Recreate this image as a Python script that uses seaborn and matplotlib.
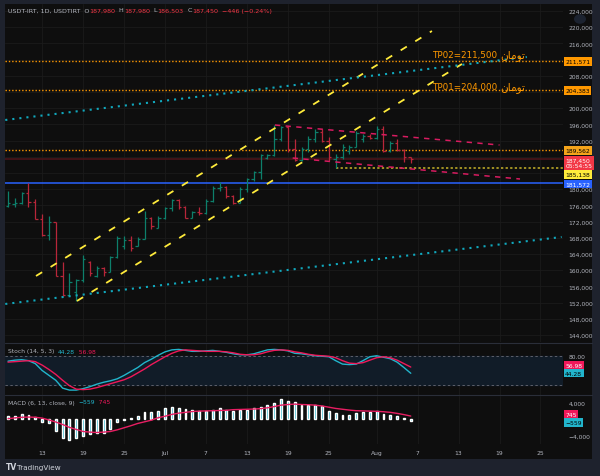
import numpy as np
import matplotlib
matplotlib.use("Agg")
import matplotlib.pyplot as plt
import matplotlib.transforms as mtransforms
from matplotlib.patches import Rectangle, Circle
from matplotlib.lines import Line2D
import pandas as pd
import seaborn as sns

# ---- data (daily bars, 2025-06-08 .. 2025-08-06) ----
START = pd.Timestamp("2025-06-08")
OPEN = [175900, 176300, 176600, 179100, 176800, 172700, 168700, 171900, 158600, 153900,
        154500, 157600, 162000, 158600, 160500, 159600, 163300, 166000, 167500, 166000,
        167800, 173000, 170500, 172800, 175300, 177300, 175600, 173000, 174400, 174000,
        177200, 180300, 180600, 178400, 176700, 180000, 182400, 184200, 187700, 188500,
        192400, 195400, 190000, 187200, 190000, 192500, 194200, 192000, 187500, 188000,
        189500, 190500, 192500, 193200, 192600, 194800, 189500, 191500, 189600, 187980]
HIGH = [179600, 177800, 179300, 181600, 177600, 173900, 173400, 172000, 162000, 159300,
        157800, 163700, 162300, 161000, 160800, 163500, 168500, 168500, 168500, 168300,
        174600, 173100, 173400, 175600, 177600, 177600, 175900, 174600, 175600, 177600,
        180800, 181800, 180800, 178600, 180500, 182800, 184500, 188700, 188700, 195900,
        195600, 195600, 192400, 190400, 193100, 194900, 194900, 192900, 188700, 191200,
        191000, 194400, 193600, 193600, 195600, 195600, 191900, 192400, 189900, 187980]
LOW = [175600, 175600, 176300, 175600, 172600, 168500, 167500, 158500, 153600, 153600,
       152400, 157100, 158600, 158300, 158600, 159600, 163000, 165200, 164700, 166000,
       167700, 170200, 170400, 172600, 174600, 175100, 172900, 172900, 173600, 173900,
       176800, 179600, 177800, 176400, 176600, 179300, 182000, 182500, 187500, 188200,
       191900, 189200, 187000, 187000, 189200, 191700, 191700, 187000, 185138, 187500,
       188700, 190400, 191700, 192400, 192500, 189200, 189200, 189400, 186700, 186503]
CLOSE = [176600, 176600, 179100, 176800, 172700, 168700, 171900, 158600, 153900, 157000,
         157600, 162800, 159300, 160500, 159600, 163300, 168000, 167500, 165500, 167800,
         173000, 170800, 172800, 175300, 177300, 175600, 173000, 174400, 174000, 177200,
         180300, 180600, 178400, 176700, 180000, 182400, 184200, 188400, 188500, 192400,
         195400, 190000, 187200, 190000, 192500, 194200, 192000, 188000, 188000, 190500,
         190500, 193800, 193200, 192600, 194800, 189500, 191500, 189600, 187896, 187450]

STOCH_K = [69, 71, 72, 70, 64, 50, 40, 30, 14, 10, 10, 13, 17, 22, 26, 29, 33, 40, 48, 56,
           66, 73, 81, 88, 92, 93, 91, 89, 89, 90, 91, 89, 87, 84, 82, 82, 84, 88, 92, 93,
           92, 90, 85, 84, 82, 80, 79, 78, 70, 63, 62, 63, 70, 78, 80, 77, 74, 67, 56, 44.28]
STOCH_D = [67, 68, 69, 70, 68, 61, 52, 42, 30, 19, 12, 11, 12, 15, 19, 23, 27, 31, 37, 45,
           53, 62, 70, 78, 85, 90, 92, 91, 90, 89, 89, 89, 88, 86, 83, 82, 82, 84, 88, 91,
           92, 91, 88, 86, 83, 81, 80, 79, 76, 70, 65, 64, 66, 71, 76, 78, 76, 71, 64, 56.98]

MACD_HIST = [800, 650, 1150, 1000, 400, -650, -1000, -2850, -4500, -5100,
             -4700, -4100, -3650, -3400, -3250, -2450, -800, -150, 300, 650,
             1650, 1800, 2050, 2600, 2850, 2700, 2450, 2300, 2050, 2050,
             2300, 2600, 2300, 2050, 2300, 2300, 2600, 2850, 3400, 3900,
             4900, 4500, 4100, 3500, 3500, 3500, 3100, 2050, 1450, 900,
             1050, 1450, 1650, 1650, 1900, 1200, 1050, 650, 250, -559]
MACD_SIGNAL = [100, 300, 450, 500, 450, 250, -200, -700, -1300, -2000,
               -2500, -3000, -3150, -3250, -3150, -3000, -2600, -2100, -1600, -1050,
               -650, -250, 350, 700, 1150, 1450, 1650, 1850, 1950, 2000,
               2050, 2100, 2150, 2300, 2350, 2400, 2450, 2550, 2750, 3050,
               3400, 3550, 3650, 3550, 3500, 3400, 3200, 2900, 2600, 2400,
               2200, 2050, 2000, 1950, 1900, 1800, 1650, 1400, 1100, 745]

# drawn levels and trend lines (day offset from START, price)
LEVELS_ORANGE = [211571, 204383, 189562]
LEVEL_YELLOW = 185138
LEVEL_BLUE = 181572
CHANNEL_UPPER = ([4.1, 62.1], [158570, 219060])
CHANNEL_LOWER = ([10.1, 66.5], [152400, 210920])
CYAN_UPPER = ([-0.4, 76.0], [197090, 212640])
CYAN_LOWER = ([-0.4, 81.1], [151660, 168200])
RED_UPPER = ([39.1, 72.0], [195850, 190910])
RED_LOWER = ([41.7, 75.0], [187700, 182520])
TARGETS = [("TP02=211,500 ", 213380), ("TP01=204,000 ", 205480)]

TICK_DATES = ["2025-06-13", "2025-06-19", "2025-06-25", "2025-07-01", "2025-07-07",
              "2025-07-13", "2025-07-19", "2025-07-25", "2025-08-01", "2025-08-07",
              "2025-08-13", "2025-08-19", "2025-08-25"]
TICK_LABELS = ["13", "19", "25", "Jul", "7", "13", "19", "25", "Aug", "7", "13", "19", "25"]
PRICE_TICKS = list(range(144000, 224001, 4000))
HIDDEN_TICKS = [212000, 204000, 188000, 184000]

TOMAN = "\uFEE5\uFE8E\uFEE3\uFEEE\uFE97"  # تومان, shaped in visual order

BG = "#0e0e0e"
FRAME = "#1e222d"
GRID = "#1b1b1b"
TXT = "#b2b5be"
UP = "#0d7f6b"
DOWN = "#b8263a"
CYAN = "#22b5cc"
PINK = "#f0185a"
ORANGE = "#ff9800"

sns.set_theme(style="dark", rc={
    "axes.facecolor": BG, "figure.facecolor": FRAME, "axes.edgecolor": BG,
    "grid.color": GRID, "text.color": TXT, "xtick.color": TXT, "ytick.color": TXT,
})
plt.rcParams["font.family"] = ["DejaVu Sans"]
FS = 4.3

W, H = 600, 477
fig = plt.figure(figsize=(W / 100, H / 100), dpi=100)
fig.add_artist(Rectangle((5 / W, 1 - 460 / H), 587 / W, 455 / H, transform=fig.transFigure,
                         fc=BG, ec="none", zorder=-1))

ax_p = fig.add_axes([5 / W, 1 - 343 / H, 558 / W, 338 / H])
ax_s = fig.add_axes([5 / W, 1 - 396 / H, 558 / W, 51 / H])
ax_m = fig.add_axes([5 / W, 1 - 445 / H, 558 / W, 48 / H])

x = np.arange(len(CLOSE))
tick_pos = [(pd.Timestamp(d) - START).days for d in TICK_DATES]

for ax in (ax_p, ax_s, ax_m):
    ax.set_xlim(-0.44, 81.3)
    for s in ax.spines.values():
        s.set_visible(False)
    ax.set_xticks(tick_pos)
    ax.tick_params(axis="both", length=0, labelsize=FS, colors=TXT)
    for tp in tick_pos:
        ax.axvline(tp, color=GRID, lw=0.6, zorder=0)
    ax.grid(False)

# ---- price panel ----
ax_p.set_ylim(142270, 225730)
for pt in PRICE_TICKS:
    ax_p.axhline(pt, color=GRID, lw=0.6, zorder=0)
ax_p.yaxis.tick_right()
ax_p.set_yticks(PRICE_TICKS)
ax_p.set_yticklabels(["" if t in HIDDEN_TICKS else f"{t:,}" for t in PRICE_TICKS])
ax_p.tick_params(axis="y", pad=4)
ax_p.set_xticklabels([])

colors = [UP if c >= o else DOWN for o, c in zip(OPEN, CLOSE)]
ax_p.vlines(x, LOW, HIGH, colors=colors, lw=0.9, zorder=3)
ax_p.hlines(OPEN, x - 0.35, x, colors=colors, lw=0.9, zorder=3)
ax_p.hlines(CLOSE, x, x + 0.35, colors=colors, lw=0.9, zorder=3)

# horizontal levels
ax_p.axhline(CLOSE[-1], color="#4a1419", lw=1.2, zorder=1)
for lv in LEVELS_ORANGE:
    ax_p.axhline(lv, color=ORANGE, lw=1.0, ls=(0, (1, 1.4)), zorder=2)
ax_p.plot([48, 81.3], [LEVEL_YELLOW, LEVEL_YELLOW], color="#c9b52a", lw=1.1,
          ls=(0, (1.5, 1.5)), zorder=2)
ax_p.axhline(LEVEL_BLUE, color="#2962ff", lw=1.1, zorder=2)

# trend lines
for (lx, ly) in (CHANNEL_UPPER, CHANNEL_LOWER):
    sns.lineplot(x=lx, y=ly, ax=ax_p, color="#ffeb3b", lw=1.3, ls=(0, (4, 5.5)), zorder=4)
for (lx, ly) in (CYAN_UPPER, CYAN_LOWER):
    sns.lineplot(x=lx, y=ly, ax=ax_p, color="#11a8bd", lw=1.5, ls=(0, (1, 2.4)), zorder=4)
for (lx, ly) in (RED_UPPER, RED_LOWER):
    sns.lineplot(x=lx, y=ly, ax=ax_p, color="#d81b60", lw=1.1, ls=(0, (3.5, 3.5)), zorder=4)

for label, ty in TARGETS:
    t = ax_p.text(62.1, ty, label, color=ORANGE, fontsize=6.3, va="center", ha="left", zorder=5)
    ax_p.annotate(TOMAN, xy=(1, 0.5), xycoords=t, va="center", ha="left", color=ORANGE,
                  fontsize=7.6, zorder=5)


def chain(ax, x0, y0, parts, size=FS):
    t = ax.text(x0, y0, parts[0][0], color=parts[0][1], fontsize=size,
                transform=ax.transAxes, va="center", ha="left")
    for s, c in parts[1:]:
        t = ax.annotate(s, xy=(1, 0.5), xycoords=t, va="center", ha="left",
                        color=c, fontsize=size)
    return t


RED_T = "#f23645"
chain(ax_p, 0.005, 1 - 6 / 338, [("USDT-IRT, 1D, USDTIRT  O", TXT), ("187,980", RED_T),
                                 ("  H", TXT), ("187,980", RED_T), ("  L", TXT),
                                 ("186,503", RED_T), ("  C", TXT), ("187,450", RED_T),
                                 ("  \u2212446 (\u22120.24%)", RED_T)], size=4.6)


def tag(ax, yval, label, fc, tc, dy=0):
    tr = mtransforms.blended_transform_factory(ax.transAxes, ax.transData)
    ax.annotate(label, xy=(1.004, yval), xycoords=tr, xytext=(0, dy), textcoords="offset pixels",
                fontsize=FS, color=tc, va="center", ha="left", annotation_clip=False,
                bbox=dict(boxstyle="square,pad=0.28", fc=fc, ec="none"), zorder=10)


tag(ax_p, 211571, "211,571", ORANGE, "black")
tag(ax_p, 204383, "204,383", ORANGE, "black")
tag(ax_p, 189562, "189,562", "#f5a41a", "black")
tag(ax_p, CLOSE[-1], "187,450\n05:54:55", RED_T, "white", dy=-4)
tag(ax_p, LEVEL_YELLOW, "185,138", "#ffeb3b", "black", dy=-6)
tag(ax_p, LEVEL_BLUE, "181,572", "#2962ff", "white", dy=-1)

# ---- stochastic ----
ax_s.set_ylim(0, 104)
ax_s.axhspan(20, 80, color="#111c28", zorder=0)
ax_s.axhline(80, color="#5d606b", lw=0.7, ls=(0, (2.5, 2.5)), zorder=1)
ax_s.axhline(20, color="#5d606b", lw=0.7, ls=(0, (2.5, 2.5)), zorder=1)
sns.lineplot(x=x, y=STOCH_K, ax=ax_s, color=CYAN, lw=1.0, zorder=3)
sns.lineplot(x=x, y=STOCH_D, ax=ax_s, color=PINK, lw=1.0, zorder=3)
ax_s.yaxis.tick_right()
ax_s.set_yticks([80])
ax_s.set_yticklabels(["80.00"])
ax_s.tick_params(axis="y", pad=4)
ax_s.set_xticklabels([])
ax_s.set_ylabel("")
chain(ax_s, 0.005, 1 - 7 / 51, [("Stoch (14, 5, 3)  ", TXT), ("44.28", CYAN), ("  56.98", PINK)])
tag(ax_s, STOCH_D[-1], "56.98", PINK, "white", dy=2)
tag(ax_s, STOCH_K[-1], "44.28", CYAN, "black", dy=0)

# ---- MACD ----
ax_m.set_ylim(-6040, 5620)
ax_m.bar(x, MACD_HIST, width=0.28, color=CYAN, zorder=2)
sns.lineplot(x=x, y=MACD_SIGNAL, ax=ax_m, color="#e91e63", lw=1.0, zorder=3)
ax_m.yaxis.tick_right()
ax_m.set_yticks([4000, -4000])
ax_m.set_yticklabels(["4,000", "\u22124,000"])
ax_m.tick_params(axis="y", pad=4)
ax_m.set_xticklabels(TICK_LABELS)
ax_m.tick_params(axis="x", pad=4)
ax_m.set_ylabel("")
chain(ax_m, 0.005, 1 - 6 / 48, [("MACD (6, 13, close, 9)  ", TXT), ("\u2212559", CYAN),
                                ("  745", PINK)])
tag(ax_m, MACD_SIGNAL[-1], "745", PINK, "white", dy=2)
tag(ax_m, MACD_HIST[-1], "\u2212559", CYAN, "black", dy=-1)

# panel separators and decorations
for yy in (344, 396):
    fig.add_artist(Line2D([5 / W, 592 / W], [1 - yy / H, 1 - yy / H], transform=fig.transFigure,
                          color="#2a2e39", lw=0.8))
fig.add_artist(Circle((580 / W, 1 - 20 / H), 6 / W, transform=fig.transFigure,
                      fc="#1c2330", ec="none"))
fig.text(6 / W, 1 - 468 / H, "TV", fontsize=5.5, fontweight="bold", color="#d1d4dc",
         va="center", ha="left")
fig.text(17 / W, 1 - 468 / H, "TradingView", fontsize=5.2, color="#d1d4dc",
         va="center", ha="left")

fig.savefig("out.png", dpi=100, facecolor=FRAME)
